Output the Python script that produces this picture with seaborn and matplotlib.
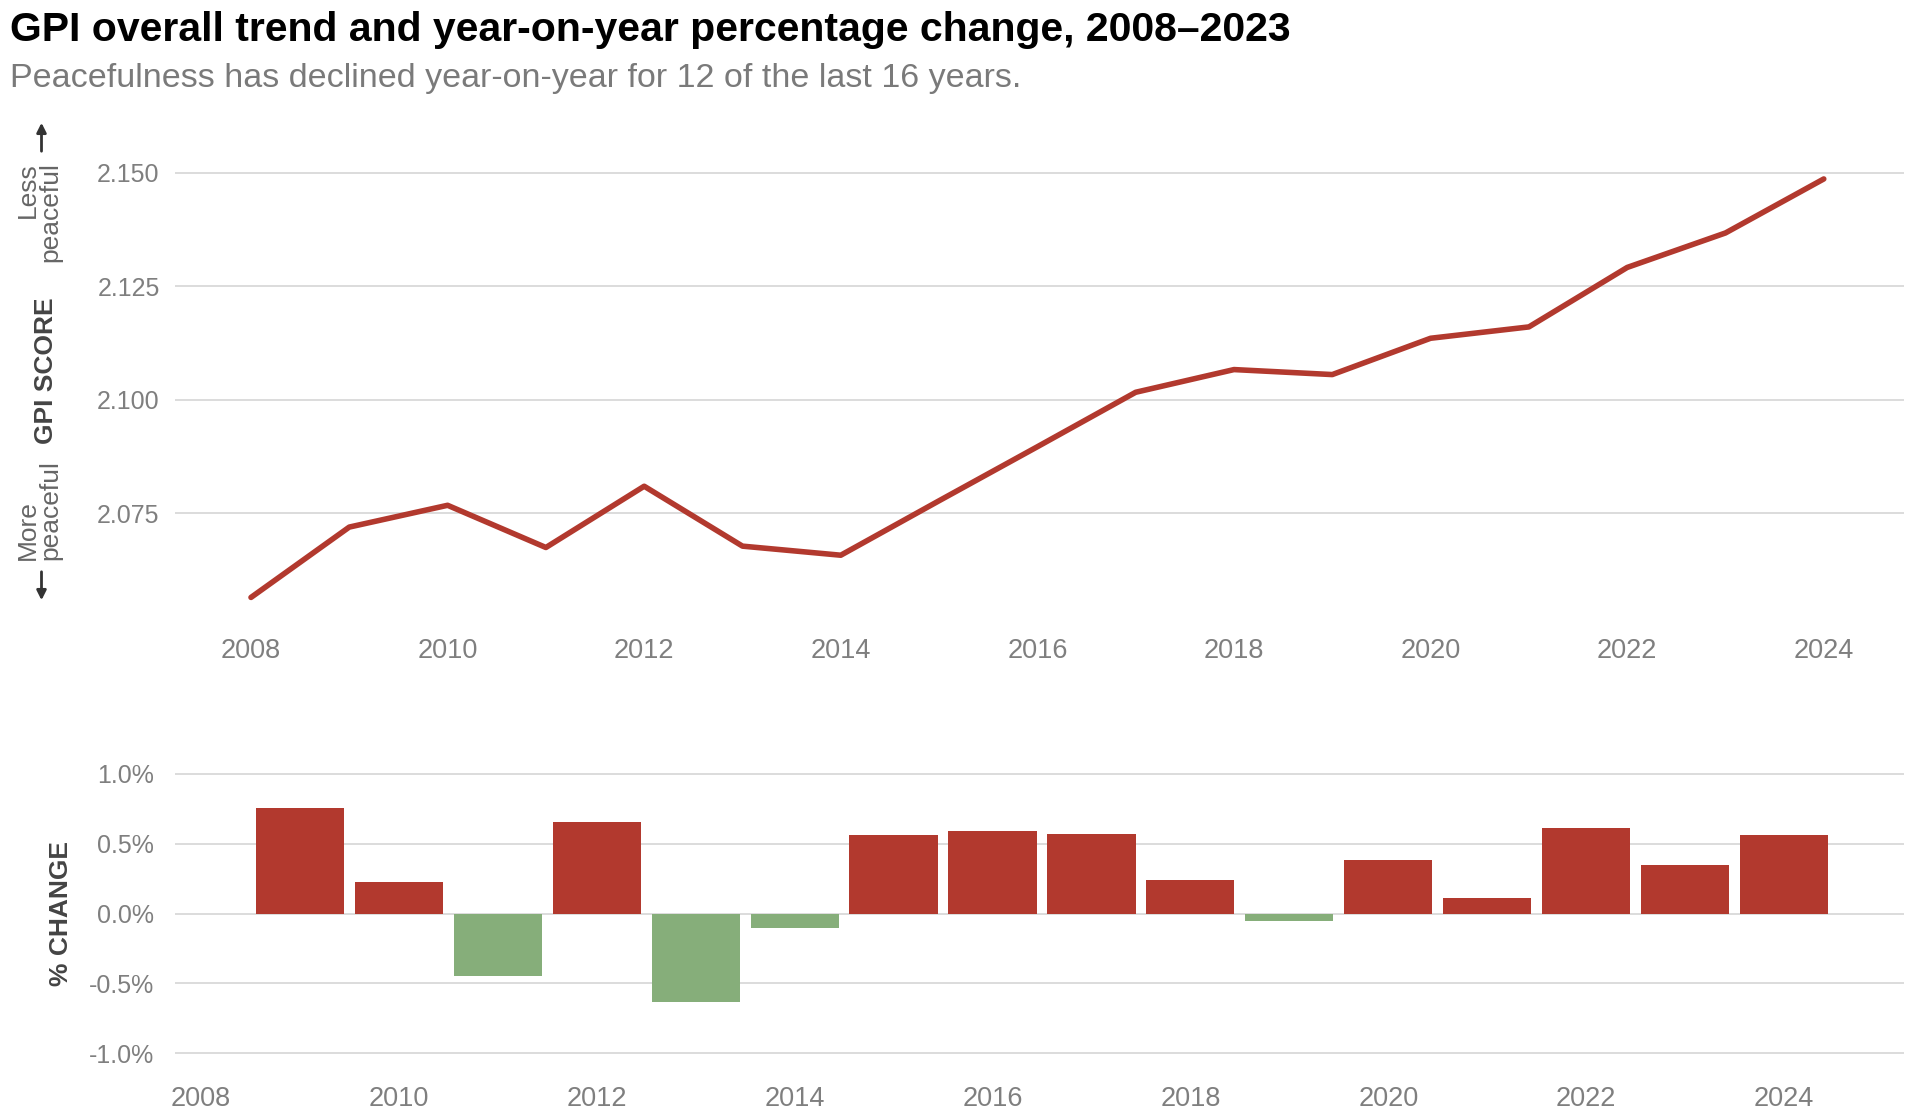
import numpy as np
import pandas as pd
import matplotlib.pyplot as plt
import seaborn as sns

# data

years = list(range(2008, 2025))
gpi_score = [2.0564, 2.0719, 2.0767, 2.0674, 2.0809, 2.0677, 2.0657, 2.0777, 2.0896,
             2.1016, 2.1066, 2.1055, 2.1135, 2.1160, 2.1291, 2.1367, 2.1486]

change_years = list(range(2009, 2025))
pct_change = [0.754, 0.228, -0.447, 0.658, -0.632, -0.105, 0.561, 0.588,
              0.570, 0.237, -0.053, 0.386, 0.114, 0.614, 0.351, 0.561]

score_ticks = [2.075, 2.100, 2.125, 2.150]
change_ticks = [-1.0, -0.5, 0.0, 0.5, 1.0]
year_ticks = list(range(2008, 2025, 2))

title = "GPI overall trend and year-on-year percentage change, 2008\u20132023"
subtitle = "Peacefulness has declined year-on-year for 12 of the last 16 years."

RED = "#b2392e"
GREEN = "#86ae7a"
GRID = "#d9d9d9"
TICK = "#7f7f7f"

score_df = pd.DataFrame({"year": years, "score": gpi_score})
change_df = pd.DataFrame({"year": change_years, "change": pct_change})
change_df["direction"] = np.where(change_df["change"] >= 0, "worse", "better")

sns.set_theme(style="white")
plt.rcParams["font.family"] = ["Liberation Sans", "DejaVu Sans"]

W, H = 1920, 1115
fig = plt.figure(figsize=(W / 100, H / 100), dpi=100)


def fx(px):
    return px / W


def fy(py):
    return 1 - py / H


# top panel: overall score

ax_top = fig.add_axes([fx(175), fy(617.4), fx(1904) - fx(175), fy(127.2) - fy(617.4)])
sns.lineplot(data=score_df, x="year", y="score", ax=ax_top, color=RED, linewidth=4,
             solid_capstyle="round")
ax_top.set_xlim(2007.227, 2024.816)
ax_top.set_ylim(2.052, 2.160)
ax_top.set_yticks(score_ticks)
ax_top.set_yticklabels([f"{v:.3f}" for v in score_ticks])
ax_top.set_xticks(year_ticks)
ax_top.set_xticklabels([str(y) for y in year_ticks])
ax_top.grid(axis="y", color=GRID, linewidth=1.3)
ax_top.grid(axis="x", visible=False)
ax_top.set_axisbelow(True)
ax_top.tick_params(axis="y", length=0, labelsize=18, labelcolor=TICK, pad=11)
ax_top.tick_params(axis="x", length=0, labelsize=19.5, labelcolor=TICK, pad=15)
ax_top.set_xlabel("")
ax_top.set_ylabel("")
sns.despine(ax=ax_top, left=True, bottom=True)

# bottom panel: year-on-year change

ax_bot = fig.add_axes([fx(175), fy(1067), fx(1904) - fx(175), fy(760) - fy(1067)])
sns.barplot(data=change_df, x="year", y="change", hue="direction",
            palette={"worse": RED, "better": GREEN}, native_scale=True, dodge=False,
            width=0.89, saturation=1, errorbar=None, legend=False, linewidth=0,
            ax=ax_bot)
ax_bot.set_xlim(2007.74, 2025.21)
ax_bot.set_ylim(-1.1, 1.1)
ax_bot.set_yticks(change_ticks)
ax_bot.set_yticklabels([f"{v:.1f}%" for v in change_ticks])
ax_bot.set_xticks(year_ticks)
ax_bot.set_xticklabels([str(y) for y in year_ticks])
ax_bot.grid(axis="y", color=GRID, linewidth=1.3)
ax_bot.grid(axis="x", visible=False)
ax_bot.set_axisbelow(True)
ax_bot.tick_params(axis="y", length=0, labelsize=18, labelcolor=TICK, pad=15)
ax_bot.tick_params(axis="x", length=0, labelsize=19.5, labelcolor=TICK, pad=14)
ax_bot.set_xlabel("")
ax_bot.set_ylabel("")
sns.despine(ax=ax_bot, left=True, bottom=True)

# titles and axis annotations

fig.text(fx(10), fy(30), title, fontsize=29.5, fontweight="bold", color="black",
         ha="left", va="center")
fig.text(fx(10), fy(79), subtitle, fontsize=24.5, color="#7a7a7a", ha="left", va="center")

fig.text(fx(46.5), fy(371), "GPI SCORE", rotation=90, fontsize=19, fontweight="bold",
         color="#444444", ha="center", va="center")
fig.text(fx(61.5), fy(913), "% CHANGE", rotation=90, fontsize=19, fontweight="bold",
         color="#444444", ha="center", va="center")
fig.text(fx(39), fy(162), "Less\npeaceful", rotation=90, fontsize=19, color="#666666",
         ha="center", va="top", multialignment="right", linespacing=0.95)
fig.text(fx(39), fy(560), "More\npeaceful", rotation=90, fontsize=19, color="#666666",
         ha="center", va="bottom", multialignment="left", linespacing=0.95)

arrow = dict(arrowstyle="-|>", color="#333333", lw=2, mutation_scale=14)
ax_top.annotate("", xy=(fx(41.5), fy(120)), xytext=(fx(41.5), fy(154)),
                xycoords="figure fraction", arrowprops=arrow, annotation_clip=False)
ax_top.annotate("", xy=(fx(41.5), fy(603)), xytext=(fx(41.5), fy(569)),
                xycoords="figure fraction", arrowprops=arrow, annotation_clip=False)

fig.savefig("out.png", dpi=100, facecolor="white")
